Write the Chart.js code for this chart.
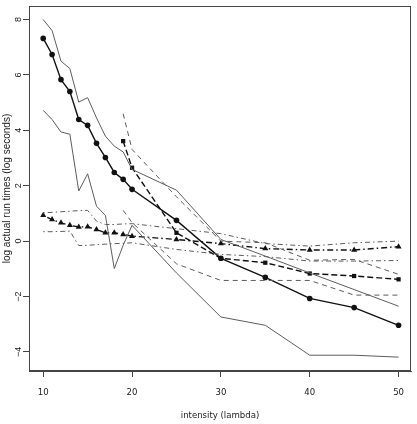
<!DOCTYPE html>
<html>
<head>
<meta charset="utf-8">
<script src="https://cdn.jsdelivr.net/npm/chart.js@4/dist/chart.umd.min.js"></script>
<style>
  html, body { margin: 0; padding: 0; background: #fff; }
  canvas { display: block; }
</style>
</head>
<body>
<canvas id="chart" width="417" height="424"></canvas>
<script>
// x positions (lambda)
const lambdaAll = [10, 11, 12, 13, 14, 15, 16, 17, 18, 19, 20, 25, 30, 35, 40, 45, 50];
const lambdaLate = [19, 20, 25, 30, 35, 40, 45, 50];

// solid group (circles)
const solidMean  = [7.32, 6.74, 5.83, 5.40, 4.39, 4.18, 3.53, 3.02, 2.48, 2.23, 1.87, 0.75, -0.62, -1.31, -2.07, -2.40, -3.04];
const solidUpper = [8.00, 7.60, 6.50, 6.23, 5.02, 5.18, 4.45, 3.79, 3.43, 3.22, 2.59, 1.84, 0.06, -0.54, -1.15, -1.75, -2.35];
const solidLower = [4.72, 4.39, 3.94, 3.86, 1.81, 2.43, 1.26, 0.93, -0.99, -0.15, 0.57, -1.15, -2.74, -3.04, -4.12, -4.12, -4.19];

// dashed group (squares)
const dashMean  = [3.61, 2.65, 0.30, -0.62, -0.78, -1.17, -1.26, -1.38];
const dashUpper = [4.60, 3.31, 1.60, 0.00, -0.06, -0.69, -0.66, -1.20];
const dashLower = [1.11, 0.67, -0.82, -1.42, -1.42, -1.42, -1.95, -1.95];

// dot-dash group (triangles)
const dotMean  = [0.93, 0.78, 0.66, 0.57, 0.51, 0.52, 0.42, 0.30, 0.30, 0.24, 0.18, 0.06, -0.09, -0.27, -0.32, -0.32, -0.20];
const dotUpper = [1.02, 1.04, 1.06, 1.08, 1.10, 1.11, 0.72, 0.60, 0.60, 0.62, 0.63, 0.45, 0.27, -0.09, -0.18, -0.06, 0.00];
const dotLower = [0.34, 0.34, 0.35, 0.36, -0.16, -0.15, -0.13, -0.11, -0.09, -0.08, -0.06, -0.30, -0.48, -0.56, -0.72, -0.72, -0.70];

const xTicks = [10, 20, 30, 40, 50];
const yTicks = [-4, -2, 0, 2, 4, 6, 8];

const DASHED = [5, 4];
const DOTDASH = [1.5, 3, 5, 3];

let points = (xs, ys) => xs.map((x, i) => ({ x: x, y: ys[i] }));

let bound = (xs, ys, dash) => {
    return {
        data: points(xs, ys),
        borderColor: '#5c5c5c',
        borderWidth: 1,
        borderDash: dash,
        pointRadius: 0,
        fill: false,
        tension: 0
    };
};

let mean = (xs, ys, dash, style, r) => {
    return {
        data: points(xs, ys),
        borderColor: '#111',
        borderWidth: 1.4,
        borderDash: dash,
        pointStyle: style,
        pointRadius: r,
        pointBackgroundColor: '#111',
        pointBorderColor: '#111',
        pointBorderWidth: 0,
        fill: false,
        tension: 0
    };
};

// frame around the plot region, like R's box()
const boxPlugin = {
    id: 'box',
    afterDatasetsDraw(chart) {
        let a = chart.chartArea;
        let ctx = chart.ctx;
        ctx.save();
        ctx.strokeStyle = '#444';
        ctx.lineWidth = 1;
        ctx.strokeRect(Math.round(a.left) + 0.5, Math.round(a.top) + 0.5,
            Math.round(a.right - a.left) - 1, Math.round(a.bottom - a.top) - 1);
        ctx.restore();
    }
};

const tickFont = { family: "'Liberation Sans Narrow', 'DejaVu Sans Condensed', 'Liberation Sans', sans-serif", size: 9.5 };

new Chart(document.getElementById('chart').getContext('2d'), {
    type: 'line',
    data: {
        datasets: [
            bound(lambdaAll, solidUpper, []),
            bound(lambdaAll, solidLower, []),
            bound(lambdaLate, dashUpper, DASHED),
            bound(lambdaLate, dashLower, DASHED),
            bound(lambdaAll, dotUpper, DOTDASH),
            bound(lambdaAll, dotLower, DOTDASH),
            mean(lambdaAll, solidMean, [], 'circle', 2.8),
            mean(lambdaLate, dashMean, [6, 3], 'rect', 3),
            mean(lambdaAll, dotMean, [1.5, 3, 6, 3], 'triangle', 3.5)
        ]
    },
    options: {
        responsive: false,
        animation: false,
        devicePixelRatio: 1,
        layout: { padding: { top: 6, right: 6, left: 0, bottom: 0 } },
        plugins: {
            legend: { display: false },
            tooltip: { enabled: false }
        },
        scales: {
            x: {
                type: 'linear',
                min: 8.4,
                max: 51.4,
                afterBuildTicks: (scale) => { scale.ticks = xTicks.map(v => ({ value: v })); },
                afterFit: (scale) => { scale.height = 53; },
                grid: { drawOnChartArea: false, drawTicks: true, tickLength: 6, color: '#444' },
                border: { display: true, color: '#444' },
                ticks: { color: '#222', font: tickFont, padding: 10, maxRotation: 0 },
                title: {
                    display: true,
                    text: 'intensity (lambda)',
                    color: '#222',
                    font: tickFont,
                    padding: { top: 0, bottom: 3 }
                }
            },
            y: {
                type: 'linear',
                min: -4.69,
                max: 8.49,
                afterBuildTicks: (scale) => { scale.ticks = yTicks.map(v => ({ value: v })); },
                afterFit: (scale) => { scale.width = 29; },
                grid: { drawOnChartArea: false, drawTicks: true, tickLength: 6, color: '#444' },
                border: { display: true, color: '#444' },
                ticks: {
                    color: '#222',
                    font: { family: "'Liberation Sans', Arial, sans-serif", size: 9 },
                    padding: -1,
                    minRotation: 90,
                    maxRotation: 90,
                    crossAlign: 'center',
                    callback: (v) => (v < 0 ? '\u2212' + Math.abs(v) : '' + v)
                },
                title: {
                    display: true,
                    text: 'log actual run times (log seconds)',
                    color: '#222',
                    font: { family: "'Liberation Sans', Arial, sans-serif", size: 10 },
                    padding: { top: 1, bottom: 0 }
                }
            }
        }
    },
    plugins: [boxPlugin]
});
</script>
</body>
</html>
